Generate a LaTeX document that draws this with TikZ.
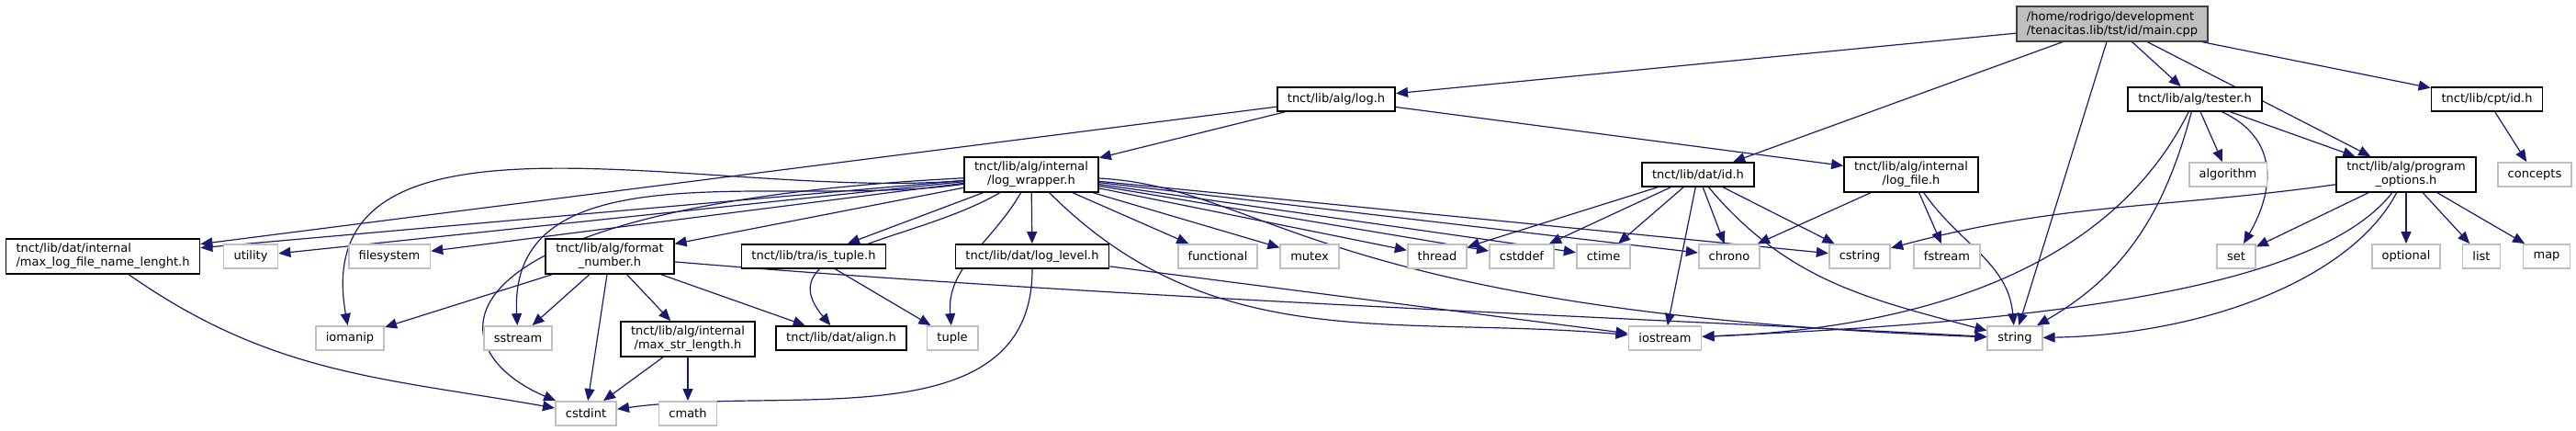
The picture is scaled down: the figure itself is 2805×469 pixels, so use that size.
\documentclass[tikz,border=0pt]{standalone}
\usepackage{fontspec}
\setmainfont{DejaVu Sans}
\usetikzlibrary{arrows.meta}
\definecolor{depblue}{HTML}{191970}
\definecolor{sysgray}{HTML}{BFBFBF}
\definecolor{maingray}{HTML}{BFBFBF}
\definecolor{mainedge}{HTML}{404040}
\pgfdeclarelayer{edges}
\pgfsetlayers{edges,main}
\tikzset{
  hdr/.style={draw=black, line width=0.9pt, fill=white, inner xsep=5.5pt, inner ysep=2.5pt,
    minimum height=13pt, font=\fontsize{6.5}{7.5}\selectfont},
  hdrtwo/.style={hdr, align=center},
  sys/.style={hdr, draw=sysgray},
  src/.style={hdr, draw=mainedge, fill=maingray, align=left},
  dep/.style={draw=depblue, line width=0.6pt, -{Triangle[length=6.5pt,width=5.5pt]}}
}

\begin{document}
\begin{tikzpicture}[x=0.5pt,y=0.5pt]
\useasboundingbox (0,0) rectangle (2805,469);
% top
\node[src] (main) at (2300,443) {/home/rodrigo/development\\/tenacitas.lib/tst/id/main.cpp};
\node[hdr] (logh) at (1455,361) {tnct/lib/alg/log.h};
\node[hdr] (tester) at (2390,361) {tnct/lib/alg/tester.h};
\node[hdr] (cptid) at (2708,361) {tnct/lib/cpt/id.h};
% second row
\node[hdrtwo] (wrapper) at (1123,279) {tnct/lib/alg/internal\\/log\_wrapper.h};
\node[hdr] (datid) at (1849,279) {tnct/lib/dat/id.h};
\node[hdrtwo] (logfile) at (2081,279) {tnct/lib/alg/internal\\/log\_file.h};
\node[sys] (algorithm) at (2426,279) {algorithm};
\node[hdrtwo] (progopt) at (2620,279) {tnct/lib/alg/program\\\_options.h};
\node[sys] (concepts) at (2760,279) {concepts};
% third row
\node[hdr, align=left] (maxlog) at (112,190) {tnct/lib/dat/internal\\/max\_log\_file\_name\_lenght.h};
\node[sys] (utility) at (273,190) {utility};
\node[sys] (filesystem) at (424,190) {filesystem};
\node[hdrtwo] (fmtnum) at (664,190) {tnct/lib/alg/format\\\_number.h};
\node[hdr] (istuple) at (886,190) {tnct/lib/tra/is\_tuple.h};
\node[hdr] (loglevel) at (1124,190) {tnct/lib/dat/log\_level.h};
\node[sys] (functional) at (1326,190) {functional};
\node[sys] (mutex) at (1426,190) {mutex};
\node[sys] (thread) at (1565,190) {thread};
\node[sys] (cstddef) at (1657,190) {cstddef};
\node[sys] (ctime) at (1746,190) {ctime};
\node[sys] (chrono) at (1883,190) {chrono};
\node[sys] (cstring) at (2025,190) {cstring};
\node[sys] (fstream) at (2120,190) {fstream};
\node[sys] (set) at (2435,190) {set};
\node[sys] (optional) at (2620,190) {optional};
\node[sys] (list) at (2702,190) {list};
\node[sys] (map) at (2773,190) {map};
% fourth row
\node[sys] (iomanip) at (381,101) {iomanip};
\node[sys] (sstream) at (564,101) {sstream};
\node[hdrtwo] (maxstr) at (749,100) {tnct/lib/alg/internal\\/max\_str\_length.h};
\node[hdr] (align) at (916,101) {tnct/lib/dat/align.h};
\node[sys] (tuple) at (1037,101) {tuple};
\node[sys] (iostream) at (1813,101) {iostream};
\node[sys] (string) at (2194,101) {string};
% bottom
\node[sys] (cstdint) at (638,19) {cstdint};
\node[sys] (cmath) at (749,19) {cmath};

\begin{pgfonlayer}{edges}
% main.cpp
\draw[dep] (main) -- (logh);
\draw[dep] (main) -- (datid);
\draw[dep] (main) -- (string);
\draw[dep] (main) -- (tester);
\draw[dep] (main) -- (progopt);
\draw[dep] (main) -- (cptid);
% log.h
\draw[dep] (logh) -- (maxlog);
\draw[dep] (logh) -- (wrapper);
\draw[dep] (logh) -- (logfile);
% log_wrapper.h
\draw[dep] (wrapper) -- (maxlog);
\draw[dep] (wrapper) -- (utility);
\draw[dep] (wrapper) -- (filesystem);
\draw[dep] (wrapper) to[out=185,in=100] (iomanip);
\draw[dep] (wrapper) to[out=188,in=93] (sstream);
\draw[dep] (wrapper) .. controls (460,245) and (470,90) .. (cstdint);
\draw[dep] (wrapper) -- (fmtnum);
\draw[dep] (wrapper) to[out=210,in=130,looseness=1.2] (align);
\draw[dep] (wrapper) -- (istuple);
\draw[dep] (wrapper) to[out=240,in=95] (tuple);
\draw[dep] (wrapper) -- (loglevel);
\draw[dep] (wrapper) -- (functional);
\draw[dep] (wrapper) -- (mutex);
\draw[dep] (wrapper) -- (thread);
\draw[dep] (wrapper) -- (cstddef);
\draw[dep] (wrapper) -- (ctime);
\draw[dep] (wrapper) -- (chrono);
\draw[dep] (wrapper) -- (cstring);
\draw[dep] (wrapper) to[out=-45,in=175] (iostream);
\draw[dep] (wrapper) .. controls (1380,265) and (1430,130) .. (string);
% other headers
\draw[dep] (maxlog) to[out=-35,in=170] (cstdint);
\draw[dep] (fmtnum) -- (iomanip);
\draw[dep] (fmtnum) -- (sstream);
\draw[dep] (fmtnum) -- (cstdint);
\draw[dep] (fmtnum) -- (maxstr);
\draw[dep] (fmtnum) -- (align);
\draw[dep] (fmtnum) .. controls (1200,145) and (1800,122) .. (string);
\draw[dep] (maxstr) -- (cstdint);
\draw[dep] (maxstr) -- (cmath);
\draw[dep] (istuple) -- (tuple);
\draw[dep] (loglevel) to[out=-90,in=8] (cstdint);
\draw[dep] (loglevel) -- (iostream);
\draw[dep] (datid) -- (thread);
\draw[dep] (datid) -- (cstddef);
\draw[dep] (datid) -- (ctime);
\draw[dep] (datid) -- (iostream);
\draw[dep] (datid) -- (chrono);
\draw[dep] (datid) to[out=-50,in=165] (string);
\draw[dep] (datid) -- (cstring);
\draw[dep] (logfile) -- (chrono);
\draw[dep] (logfile) -- (fstream);
\draw[dep] (logfile) to[out=-55,in=95] (string);
% tester.h
\draw[dep] (tester) .. controls (2300,180) and (2100,112) .. (iostream);
\draw[dep] (tester) to[out=-105,in=30] (string);
\draw[dep] (tester) -- (algorithm);
\draw[dep] (tester) to[out=-25,in=60,looseness=1.2] (set);
\draw[dep] (tester) -- (progopt);
% program_options.h
\draw[dep] (progopt) to[out=188,in=15] (cstring);
\draw[dep] (progopt) -- (set);
\draw[dep] (progopt) .. controls (2520,150) and (2200,118) .. (iostream);
\draw[dep] (progopt) .. controls (2560,165) and (2400,105) .. (string);
\draw[dep] (progopt) -- (optional);
\draw[dep] (progopt) -- (list);
\draw[dep] (progopt) -- (map);
\draw[dep] (cptid) -- (concepts);
\end{pgfonlayer}
\end{tikzpicture}
\end{document}
